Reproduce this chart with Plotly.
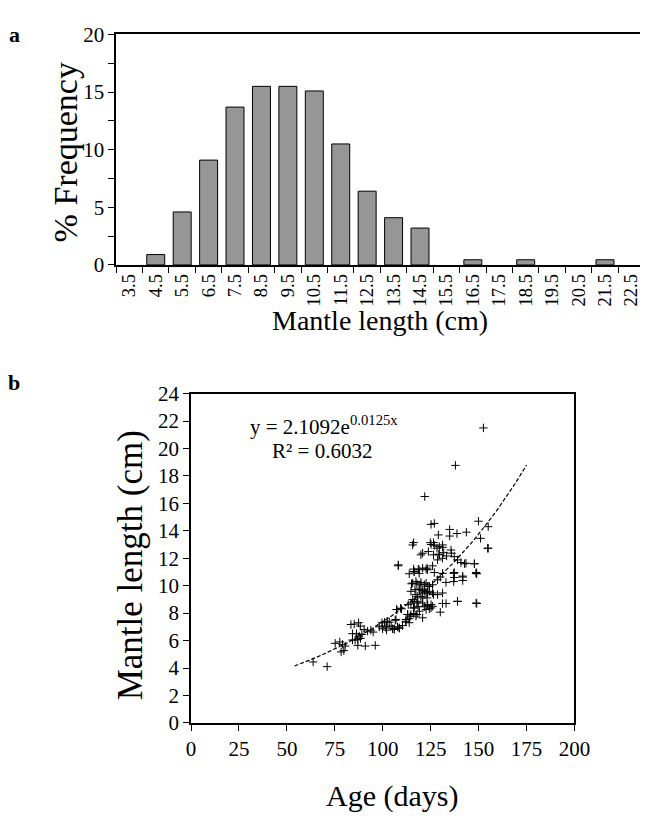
import numpy as np
import plotly.graph_objects as go

# Panel a: length-frequency distribution
LENGTH_CLASSES = ["3.5", "4.5", "5.5", "6.5", "7.5", "8.5", "9.5", "10.5", "11.5", "12.5",
                  "13.5", "14.5", "15.5", "16.5", "17.5", "18.5", "19.5", "20.5", "21.5", "22.5"]
PCT_FREQUENCY = [0, 0.9, 4.6, 9.1, 13.7, 15.5, 15.5, 15.1, 10.5, 6.4,
                 4.1, 3.2, 0, 0.45, 0, 0.45, 0, 0, 0.45, 0]

# Panel b: age vs mantle length
AGE_DAYS = [
    63.7, 71.0, 75.2, 77.6, 79.0, 80.4, 78.3, 79.7, 83.4, 85.1, 87.4, 88.3, 84.2, 86.3, 87.7,
    89.1, 84.2, 85.6, 87.0, 88.4, 87.0, 90.9, 96.1, 92.1, 93.8, 95.0, 98.2, 99.6, 100.9, 102.3,
    103.4, 102.0, 104.4, 102.0, 106.0, 108.6, 106.5, 107.2, 109.3, 112.1, 113.0, 99.8, 90.3,
    113.8, 116.4, 119.0, 123.4, 126.9, 131.2, 137.0, 137.0, 141.7, 141.7, 149.0, 115.0, 117.8,
    119.9, 121.7, 123.4, 126.0, 128.6, 133.0, 114.7, 116.8, 119.0, 120.8, 122.6, 124.3, 126.5,
    128.6, 131.2, 118.2, 120.8, 123.1, 116.4, 114.7, 117.8, 113.3, 116.1, 118.5, 121.7, 123.4,
    125.2, 124.3, 131.2, 133.0, 139.0, 149.0, 130.0, 107.4, 109.8, 113.0, 114.4, 116.1, 117.8,
    112.1, 113.8, 108.6, 106.0, 106.9, 130.0,
    121.9, 125.2, 126.9, 129.0, 134.9, 134.9, 138.7, 143.6, 149.9, 155.0, 151.0, 155.0, 116.1,
    124.8, 126.5, 131.2, 128.3, 120.8, 123.8, 126.5, 129.5, 131.8, 135.6, 135.9, 128.6, 131.2,
    139.0, 140.8, 143.4, 147.8, 108.1, 116.1, 118.5, 123.1, 126.0, 148.7, 137.3,
    137.9, 152.5,
    115.6, 125.2, 126.9, 129.5, 131.2, 119.9, 129.3, 133.3, 137.3, 108.1, 116.4, 119.0, 120.8,
    122.6, 142.6, 147.8, 154.7, 137.3, 141.7, 148.7, 139.0, 148.7,
    115.6, 117.3, 119.9, 122.6, 124.3, 119.1, 121.7, 123.4, 126.0, 117.3, 119.9, 115.6, 118.2,
    120.8, 123.4, 126.0, 116.4, 119.1, 122.6, 125.2, 114.7, 117.3, 120.8, 112.1, 113.8, 110.3,
    107.7, 105.1, 101.7, 99.9,
]
MANTLE_CM = [
    4.44, 4.10, 5.80, 5.90, 5.72, 5.60, 5.17, 5.27, 7.17, 7.20, 7.30, 7.05, 6.50, 6.50, 6.33,
    6.45, 6.04, 6.04, 6.09, 6.16, 5.65, 5.60, 5.65, 6.69, 6.76, 6.62, 7.00, 7.30, 7.34, 7.41,
    7.34, 7.05, 7.05, 6.76, 6.86, 6.90, 7.48, 8.26, 8.36, 7.34, 7.90, 7.05, 6.81,
    10.87, 11.04, 10.90, 11.16, 10.96, 10.90, 10.90, 10.30, 10.70, 10.38, 10.87, 10.14, 10.14,
    10.24, 10.07, 9.95, 10.07, 10.43, 10.24, 9.59, 9.71, 9.76, 9.66, 9.47, 9.59, 9.35,
    9.35, 9.47, 9.22, 9.11, 9.11, 8.86, 8.74, 8.74, 8.62, 8.38, 8.50, 8.46, 8.55,
    8.62, 8.31, 8.70, 8.70, 8.86, 8.70, 8.07, 8.26, 8.31, 7.90, 7.78, 7.97, 7.90,
    7.41, 7.59, 6.93, 6.81, 7.54, 10.63,
    16.50, 14.47, 14.54, 13.70, 14.10, 13.62, 13.80, 13.90, 14.70, 14.30, 13.45, 12.73, 13.14,
    13.14, 13.14, 12.97, 12.73, 12.37, 12.49, 12.25, 12.25, 12.41, 12.60, 12.37, 11.88, 12.00,
    11.88, 11.69, 11.64, 11.60, 11.45, 11.21, 11.21, 11.28, 11.45, 10.96, 10.96,
    18.77, 21.50,
    12.97, 13.00, 12.95, 12.85, 12.80, 12.25, 12.30, 12.17, 12.12, 11.52, 11.00, 11.16, 11.28,
    11.20, 11.60, 11.60, 12.73, 10.60, 10.63, 10.90, 8.86, 8.74,
    10.19, 10.31, 10.07, 10.19, 9.95, 9.71, 9.59, 9.47, 9.47, 9.35, 9.22, 8.99, 8.86,
    8.74, 8.62, 8.50, 8.38, 8.14, 8.26, 8.38, 7.90, 7.78, 7.66, 7.54, 7.30, 7.10,
    7.00, 6.86, 6.93, 6.86,
]

# exponential fit printed on the chart
FIT_A = 2.1092
FIT_B = 0.0125
FIT_X_START = 54
FIT_X_END = 175

FONT = '"Liberation Serif", "Times New Roman", serif'
W, H = 650, 820
PAGE_PAD = 8  # default body margin of the html page
# the photo comes out slightly shrunk: shot = off + scale * (PAGE_PAD + fig_px)
SHOT_X = (5.0, 0.969)
SHOT_Y = (11.7, 0.973)


def px(x):
    # target pixel in the photo -> paper x
    off, k = SHOT_X
    return ((x - off) / k - PAGE_PAD) / W


def py(y):
    # target pixel in the photo -> paper y
    off, k = SHOT_Y
    return 1 - ((y - off) / k - PAGE_PAD) / H


# panel a: first boundary at 116 px, last class label centred near 632 px
a_left = px(116)
a_step = (632 - 116) / (len(LENGTH_CLASSES) - 0.5)
a_ncat = (1.0 - a_left) * W * SHOT_X[1] / a_step

fig = go.Figure()

fig.add_trace(go.Bar(
    x=LENGTH_CLASSES,
    y=PCT_FREQUENCY,
    marker=dict(
        color="#969696",
        # empty classes get no outline so the axis is not thickened
        line=dict(color="black", width=[1 if v > 0 else 0 for v in PCT_FREQUENCY]),
    ),
    xaxis="x", yaxis="y",
))

fig.add_trace(go.Scatter(
    x=AGE_DAYS,
    y=MANTLE_CM,
    mode="markers",
    marker=dict(symbol="cross-thin", size=6, line=dict(color="black", width=1)),
    xaxis="x2", yaxis="y2",
))

fit_x = np.linspace(FIT_X_START, FIT_X_END, 80)
fig.add_trace(go.Scatter(
    x=fit_x,
    y=FIT_A * np.exp(FIT_B * fit_x),
    mode="lines",
    line=dict(color="black", width=1.2, dash="4px,2px"),
    xaxis="x2", yaxis="y2",
))

axis_common = dict(
    showline=True, linecolor="black", linewidth=1.5,
    ticks="outside", ticklen=6, tickcolor="black", tickwidth=1,
    showgrid=False, zeroline=False,
    tickfont=dict(family=FONT, size=21, color="black"),
)

fig.update_layout(
    width=W, height=H,
    margin=dict(l=0, r=0, t=0, b=0),
    paper_bgcolor="white", plot_bgcolor="white",
    showlegend=False,
    bargap=0.32,
    font=dict(family=FONT, color="black"),
    xaxis=dict(
        axis_common, domain=[a_left, 1.0], anchor="y", type="category",
        range=[-0.5, -0.5 + a_ncat],
        tickangle=-90, tickson="boundaries", mirror=True,
        tickfont=dict(family=FONT, size=18.5, color="black"),
    ),
    yaxis=dict(
        axis_common, domain=[py(265), py(34)], anchor="x", range=[0, 20], dtick=5,
        minor=dict(dtick=2.5, ticks="outside", ticklen=6, tickcolor="black"),
    ),
    xaxis2=dict(
        axis_common, domain=[px(191), px(575)], anchor="y2", range=[0, 200], dtick=25,
        mirror=True,
    ),
    yaxis2=dict(
        axis_common, domain=[py(724), py(394)], anchor="x2", range=[0, 24], dtick=2,
        mirror=True,
    ),
)

notes = [
    dict(text="<b>b</b>", x=px(14), y=py(383), size=22),
    dict(text="% Frequency", x=px(65), y=py(152), textangle=-90, size=34),
    dict(text="Mantle length (cm)", x=px(380), y=py(321), size=28),
    dict(text="Mantle length (cm)", x=px(130), y=py(566), textangle=-90, size=35),
    dict(text="Age (days)", x=px(392), y=py(797), size=30),
]
for n in notes:
    size = n.pop("size")
    fig.add_annotation(xref="paper", yref="paper", xanchor="center", yanchor="middle",
                       showarrow=False, font=dict(family=FONT, size=size, color="black"), **n)

# panel letter a sits right at the top edge
fig.add_annotation(text="<b>a</b>", xref="paper", yref="paper", x=px(14), y=1.0,
                   xanchor="center", yanchor="top", showarrow=False,
                   font=dict(family=FONT, size=22, color="black"))

# regression equation, centred lines in data units of panel b
eq_font = dict(family=FONT, size=21, color="black")
fig.add_annotation(text="y = 2.1092e<sup>0.0125x</sup>", xref="x2", yref="y2", x=69.5, y=21.65,
                   xanchor="center", yanchor="middle", showarrow=False, font=eq_font)
fig.add_annotation(text="R² = 0.6032", xref="x2", yref="y2", x=68.5, y=19.8,
                   xanchor="center", yanchor="middle", showarrow=False, font=eq_font)

fig.write_html("out.html")
